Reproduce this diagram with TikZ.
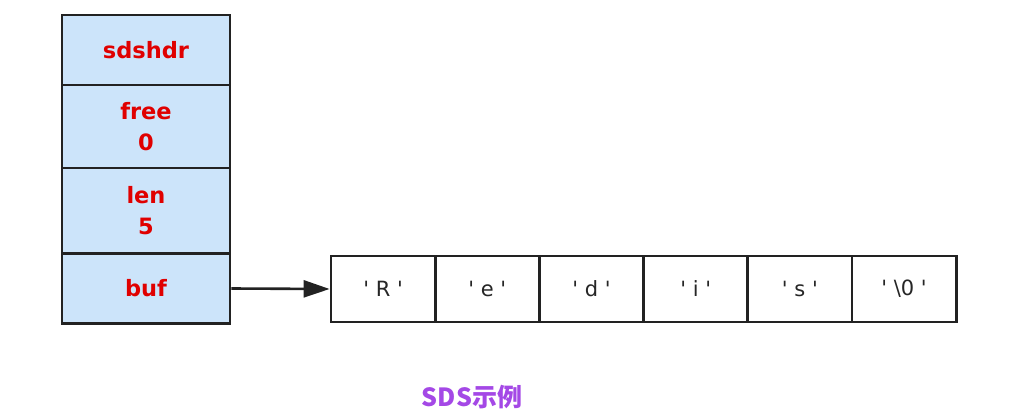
\documentclass[tikz,border=0pt]{standalone}
\usepackage{fontspec}
\setmainfont{DejaVu Sans}
\newfontfamily\cjk{Noto Sans CJK SC}
\usetikzlibrary{arrows.meta}
\definecolor{cellblue}{HTML}{CCE4FA}
\definecolor{hdrred}{HTML}{E00000}
\definecolor{edge}{HTML}{222222}
\definecolor{capviolet}{HTML}{A448E6}
\newcommand{\qq}{\textquotesingle}
\tikzset{
  x=1pt, y=-1pt,
  hdr/.style={draw=edge, line width=2.8pt, fill=cellblue, minimum width=168pt, inner sep=0pt,
    text=hdrred, font=\fontsize{22.5}{31}\selectfont\bfseries, align=center},
  chr/.style={draw=edge, line width=2.8pt, fill=white, minimum width=104.2pt, minimum height=66pt,
    inner sep=0pt, font=\fontsize{21}{24}\selectfont, text=black!85},
  link/.style={draw=edge, line width=2.6pt, -{Triangle[length=26pt,width=17pt]}},
}
\begin{document}
\begin{tikzpicture}
\useasboundingbox (0,0) rectangle (1010,420);
\fill[white] (0,0) rectangle (1010,420);
\node[hdr, minimum height=70pt] (sdshdr) at (146,50) {sdshdr};
\node[hdr, minimum height=83pt] (free) at (146,126.5) {free\\0};
\node[hdr, minimum height=85pt] (len) at (146,210.5) {len\\5};
\node[hdr, minimum height=70pt] (buf) at (146,288.5) {buf};
\node[chr] (c0) at (383.1,289) {\qq\ R \qq};
\node[chr] (c1) at (487.3,289) {\qq\ e \qq};
\node[chr] (c2) at (591.5,289) {\qq\ d \qq};
\node[chr] (c3) at (695.7,289) {\qq\ i \qq};
\node[chr] (c4) at (799.9,289) {\qq\ s \qq};
\node[chr] (c5) at (904.1,289) {\qq\ \textbackslash 0 \qq};
\draw[link] (buf.east) -- (c0.west);
\node[text=capviolet, font=\cjk\bfseries\fontsize{25}{30}\selectfont] (cap) at (472,397) {SDS示例};
\end{tikzpicture}
\end{document}
